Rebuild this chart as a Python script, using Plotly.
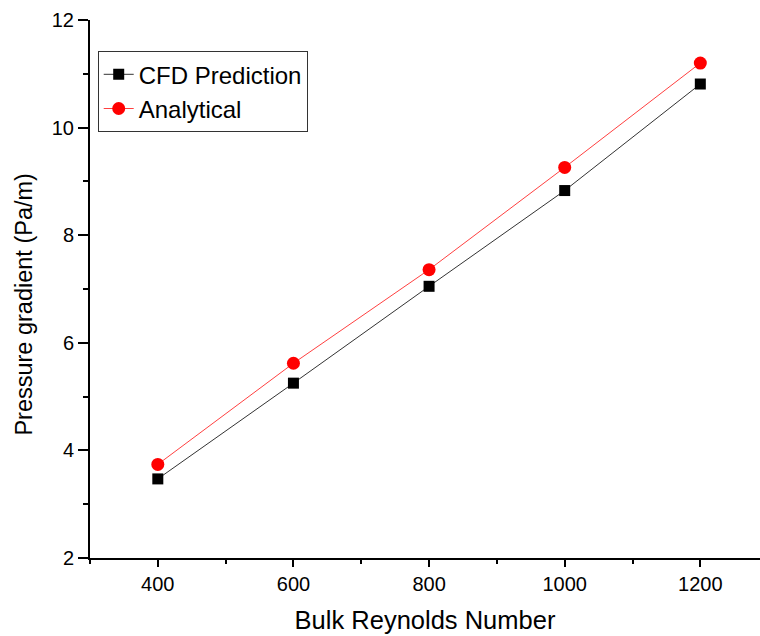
import plotly.graph_objects as go

reynolds = [400, 600, 800, 1000, 1200]
cfd_prediction = [3.47, 5.25, 7.05, 8.83, 10.81]
analytical = [3.74, 5.62, 7.36, 9.26, 11.20]

FONT = "Liberation Sans, Arial, sans-serif"

fig = go.Figure()
fig.add_trace(go.Scatter(
    x=reynolds, y=cfd_prediction, name="CFD Prediction",
    mode="lines+markers",
    line=dict(color="#333333", width=1),
    marker=dict(symbol="square", size=11, color="black"),
))
fig.add_trace(go.Scatter(
    x=reynolds, y=analytical, name="Analytical",
    mode="lines+markers",
    line=dict(color="#ff4040", width=1),
    marker=dict(symbol="circle", size=13, color="red"),
))

fig.update_layout(
    width=760, height=636,
    margin=dict(l=90, r=0, t=20, b=78),
    plot_bgcolor="white", paper_bgcolor="white",
    font=dict(family=FONT, color="black"),
    showlegend=True,
    legend=dict(
        x=0.0115, y=0.942, xanchor="left", yanchor="top",
        bordercolor="#333333", borderwidth=1, bgcolor="white",
        font=dict(size=24, family=FONT),
        tracegroupgap=0,
    ),
)
fig.update_xaxes(
    range=[300, 1288], tick0=0, dtick=200,
    showline=True, linecolor="black", linewidth=2,
    ticks="outside", ticklen=7, tickwidth=2, tickcolor="black",
    minor=dict(ticks="outside", ticklen=4, tickwidth=2, tickcolor="black", dtick=100, tick0=0),
    showgrid=False, zeroline=False,
    tickfont=dict(size=20, family=FONT),
    title=dict(text="Bulk Reynolds Number", font=dict(size=25.5, family=FONT), standoff=17),
)
fig.update_yaxes(
    range=[2, 12], tick0=0, dtick=2,
    showline=True, linecolor="black", linewidth=2,
    ticks="outside", ticklen=10, tickwidth=2, tickcolor="black",
    minor=dict(ticks="outside", ticklen=5, tickwidth=2, tickcolor="black", dtick=1, tick0=0),
    showgrid=False, zeroline=False,
    tickfont=dict(size=20, family=FONT),
)
fig.add_annotation(
    text="Pressure gradient (Pa/m)", textangle=-90,
    xref="paper", yref="paper", x=-0.0985, y=0.471,
    xanchor="center", yanchor="middle", showarrow=False,
    font=dict(size=23.5, family=FONT, color="black"),
)

fig.write_html("out.html")
